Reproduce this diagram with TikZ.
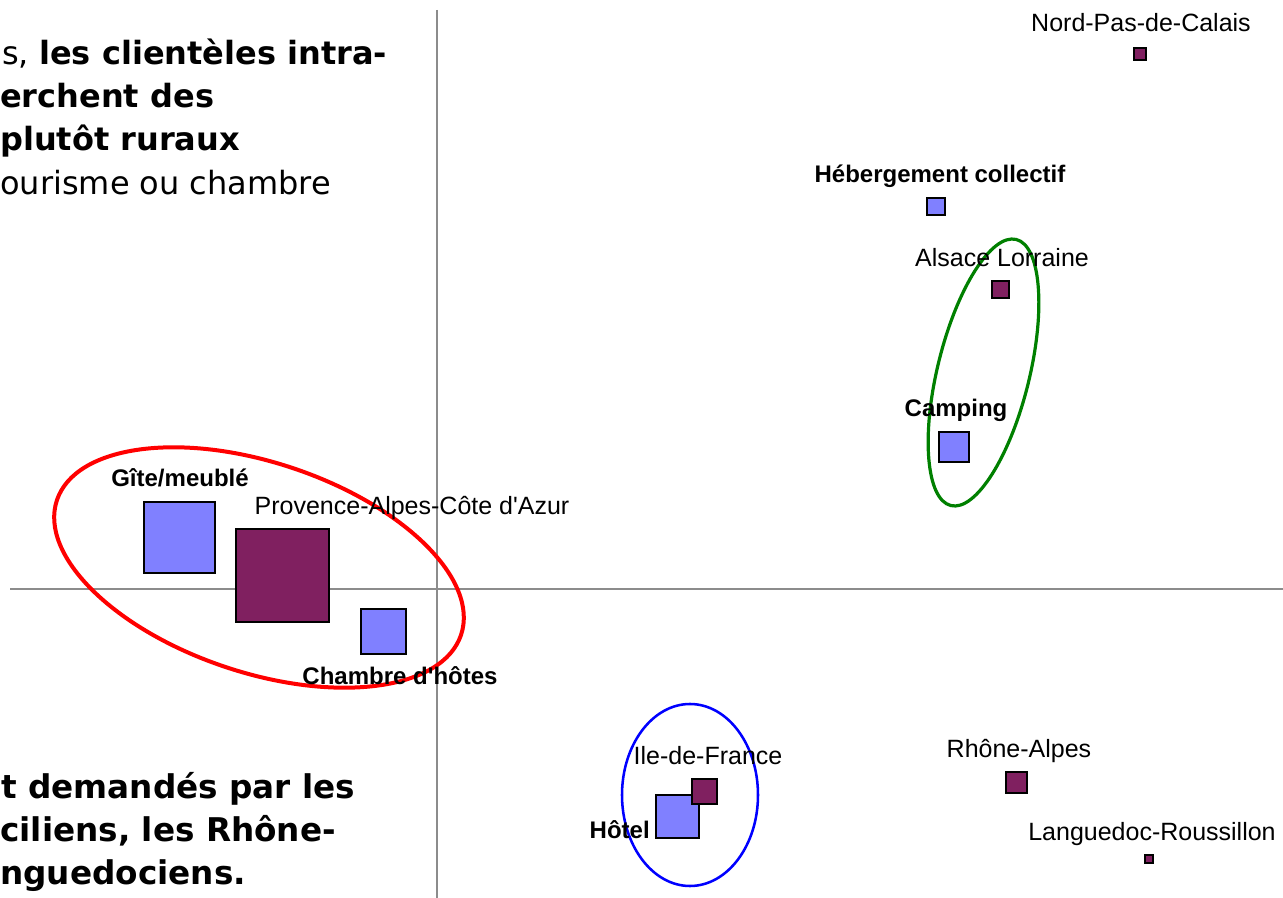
\documentclass[tikz,border=0pt]{standalone}
\usepackage{fontspec}
\setmainfont{Liberation Sans}
\newfontfamily\slidefont{DejaVu Sans}
\usepackage{tikz}
\definecolor{plum}{RGB}{128,32,96}
\definecolor{periw}{RGB}{128,128,255}
\definecolor{axisgray}{RGB}{140,140,140}
\definecolor{darkgreen}{RGB}{0,128,0}

\begin{document}
\begin{tikzpicture}[x=0.75pt,y=0.75pt,yscale=-1,xscale=1,
  blueSq/.style={draw=black, fill=periw, line width=1.5pt, inner sep=0pt, outer sep=0pt},
  plumSq/.style={draw=black, fill=plum, line width=1.5pt, inner sep=0pt, outer sep=0pt},
  lbl/.style={inner sep=0pt, anchor=base, font=\fontsize{18.75}{22}\selectfont},
  blbl/.style={inner sep=0pt, anchor=base, font=\fontsize{18}{22}\selectfont\bfseries},
  para/.style={inner sep=0pt, anchor=base west, font=\slidefont\fontsize{24}{33}\selectfont}]
\useasboundingbox (0,0) rectangle (1283,898);
\clip (0,0) rectangle (1283,898);

%Straight Lines
\draw [color=axisgray, line width=1.5pt] (437,10) -- (437,898) ;
%Straight Lines
\draw [color=axisgray, line width=1.5pt] (10,589) -- (1283,589) ;

%Shape: Square
\node [blueSq, minimum size=53pt] (gite) at (179.5,537.5) {};
\node [plumSq, minimum size=70pt] (paca) at (282.5,575.5) {};
\node [blueSq, minimum size=33.3pt] (chambre) at (383.5,631.5) {};
\node [blueSq, minimum size=32.5pt] (hotel) at (677.5,816.5) {};
\node [plumSq, minimum size=19pt] (idf) at (704.5,791.5) {};
\node [blueSq, minimum size=23pt] (camping) at (954,447) {};
\node [blueSq, minimum size=13pt] (heberg) at (936,206.5) {};
\node [plumSq, minimum size=13pt] (alsace) at (1000.5,289.5) {};
\node [plumSq, minimum size=9.3pt] (nord) at (1140,54) {};
\node [plumSq, minimum size=16pt] (rhone) at (1016.5,782.5) {};
\node [plumSq, minimum size=6.3pt] (langue) at (1149,859) {};

%Shape: Ellipse
\draw [color=red, line width=3pt, rotate around={18.4:(259,567.5)}] (259,567.5) ellipse [x radius=213, y radius=105] ;
%Shape: Ellipse
\draw [color=darkgreen, line width=2.4pt, rotate around={13.8:(983.5,372.5)}] (983.5,372.5) ellipse [x radius=46, y radius=137] ;
%Shape: Ellipse
\draw [color=blue, line width=1.9pt] (690,795) ellipse [x radius=68, y radius=91] ;

% Text Node
\node [lbl] (nordLbl) at (1141,32) {Nord-Pas-de-Calais};
% Text Node
\node [blbl] (hebergLbl) at (940,183) {Hébergement collectif};
% Text Node
\node [lbl] (alsaceLbl) at (1002,267) {Alsace Lorraine};
% Text Node
\node [blbl] (campingLbl) at (956,417) {Camping};
% Text Node
\node [blbl] (giteLbl) at (180,487) {Gîte/meublé};
% Text Node
\node [lbl] (pacaLbl) at (412,515) {Provence-Alpes-Côte d\textquotesingle Azur};
% Text Node
\node [blbl] (chambreLbl) at (400,685) {Chambre d\textquotesingle hôtes};
% Text Node
\node [lbl] (idfLbl) at (708,764) {Ile-de-France};
% Text Node
\node [blbl, anchor=base east] (hotelLbl) at (650,838) {Hôtel};
% Text Node
\node [lbl] (rhoneLbl) at (1019,757) {Rhône-Alpes};
% Text Node
\node [lbl] (langueLbl) at (1152,840) {Languedoc-Roussillon};

% Text Node
\node [para] (txtA) at (2,65) {s, \textbf{les clientèles intra-}};
\node [para] (txtB) at (0,108) {\textbf{erchent des}};
\node [para] (txtC) at (0,151) {\textbf{plutôt ruraux}};
\node [para] (txtD) at (0,195) {ourisme ou chambre};
% Text Node
\node [para, font=\slidefont\fontsize{24.5}{33}\selectfont] (txtE) at (1,798) {\textbf{t demandés par les}};
\node [para, font=\slidefont\fontsize{24.5}{33}\selectfont] (txtF) at (0,841) {\textbf{ciliens, les Rhône-}};
\node [para, font=\slidefont\fontsize{24.5}{33}\selectfont] (txtG) at (0,884) {\textbf{nguedociens.}};

\end{tikzpicture}
\end{document}
